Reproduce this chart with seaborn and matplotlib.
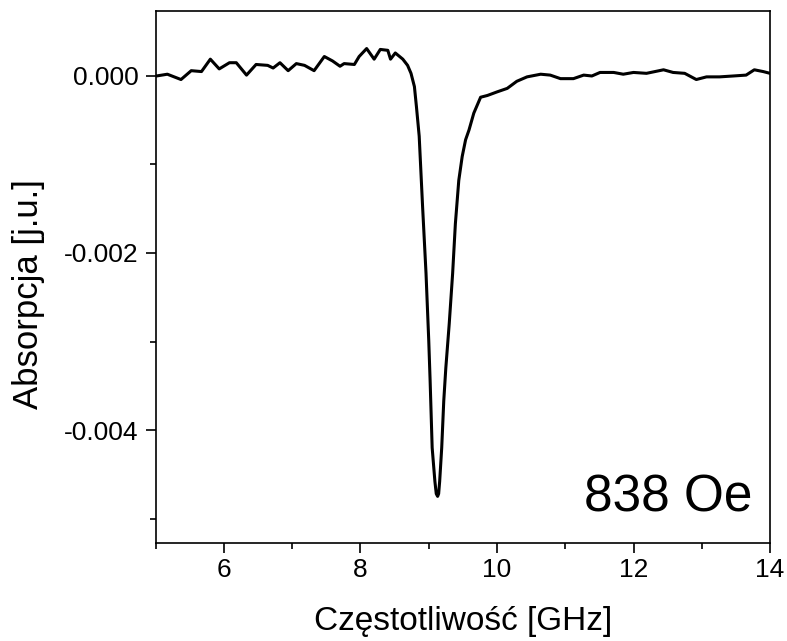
import numpy as np
import pandas as pd
import matplotlib
matplotlib.use("Agg")
import matplotlib.pyplot as plt
import seaborn as sns
from matplotlib.ticker import MultipleLocator, FixedLocator

freq = [5.01, 5.17, 5.37, 5.52, 5.67, 5.80, 5.93, 6.08, 6.18, 6.33, 6.47, 6.64, 6.72, 6.82,
        6.94, 7.06, 7.18, 7.32, 7.47, 7.59, 7.70, 7.76, 7.91, 7.98, 8.09, 8.20, 8.29, 8.40,
        8.44, 8.51, 8.62, 8.69, 8.74, 8.79, 8.82, 8.86, 8.91, 8.96, 9.00, 9.02, 9.05, 9.09,
        9.11, 9.13, 9.145, 9.16, 9.19, 9.22, 9.25, 9.30, 9.35, 9.39, 9.44, 9.49, 9.54, 9.59,
        9.66, 9.76, 9.86, 10.00, 10.15, 10.29, 10.44, 10.64, 10.78, 10.93, 11.12, 11.27,
        11.39, 11.51, 11.71, 11.85, 12.00, 12.19, 12.44, 12.58, 12.75, 12.92, 13.07, 13.26,
        13.46, 13.65, 13.77, 13.90, 14.00]
absorb = [0.0, 0.00002, -0.00004, 0.00006, 0.00005, 0.00019, 0.00008, 0.00015, 0.00015,
          0.00001, 0.00013, 0.00012, 0.00009, 0.00015, 0.00006, 0.00014, 0.00012, 0.00006,
          0.00022, 0.00017, 0.00011, 0.00014, 0.00013, 0.00022, 0.00031, 0.00019, 0.00030,
          0.00029, 0.00019, 0.00026, 0.00019, 0.00012, 0.00003, -0.00012, -0.00035, -0.00068,
          -0.00148, -0.00223, -0.00299, -0.00344, -0.00420, -0.00458, -0.00472, -0.00475,
          -0.00472, -0.00458, -0.00420, -0.00367, -0.00330, -0.00280, -0.00223, -0.00167,
          -0.00118, -0.00091, -0.00072, -0.00061, -0.00042, -0.00024, -0.00022, -0.00018,
          -0.00014, -0.00006, -0.00001, 0.00002, 0.00001, -0.00003, -0.00003, 0.00001, 0.0,
          0.00004, 0.00004, 0.00002, 0.00004, 0.00003, 0.00007, 0.00004, 0.00003, -0.00004,
          -0.00001, -0.00001, 0.0, 0.00001, 0.00007, 0.00005, 0.00003]

x_ticks = [6, 8, 10, 12, 14]
y_ticks = [0.0, -0.002, -0.004]
y_tick_labels = ["0.000", "-0.002", "-0.004"]
annotation = "838 Oe"

sns.set_style("ticks")
plt.rcParams['font.family'] = ['Liberation Sans', 'DejaVu Sans']
plt.rcParams['text.color'] = 'black'
plt.rcParams['axes.labelcolor'] = 'black'

fig = plt.figure(figsize=(7.87, 6.41), dpi=100)
ax = fig.add_axes([0.1979, 0.1534, 0.9784 - 0.1979, 0.9828 - 0.1534])

df = pd.DataFrame({"f": freq, "a": absorb})
sns.lineplot(data=df, x="f", y="a", ax=ax, color="black", linewidth=2.2, sort=False)

ax.set_xlim(5, 14)
ax.set_ylim(-0.005273, 0.000734)
ax.xaxis.set_major_locator(FixedLocator(x_ticks))
ax.xaxis.set_minor_locator(MultipleLocator(1))
ax.yaxis.set_major_locator(FixedLocator(y_ticks))
ax.set_yticklabels(y_tick_labels)
ax.yaxis.set_minor_locator(MultipleLocator(0.001))

for s in ax.spines.values():
    s.set_visible(True)
    s.set_linewidth(1.2)
    s.set_color("black")

ax.tick_params(axis="both", which="major", direction="out", length=7.5, width=1.2,
               labelsize=19, colors="black", top=False, right=False)
ax.tick_params(axis="x", which="major", pad=3.5)
ax.tick_params(axis="y", which="major", pad=5)
ax.tick_params(axis="both", which="minor", direction="out", length=4, width=1.2,
               colors="black", top=False, right=False)

ax.set_xlabel("Częstotliwość [GHz]", fontsize=24, color="black")
ax.set_ylabel("Absorpcja [j.u.]", fontsize=25, color="black")
ax.yaxis.set_label_coords(-0.181, 0.468)
ax.xaxis.set_label_coords(0.5, -0.12)

ax.text(0.971, 0.058, annotation, transform=ax.transAxes, ha="right", va="baseline",
        fontsize=37, color="black")

fig.savefig("out.png", dpi=100)
